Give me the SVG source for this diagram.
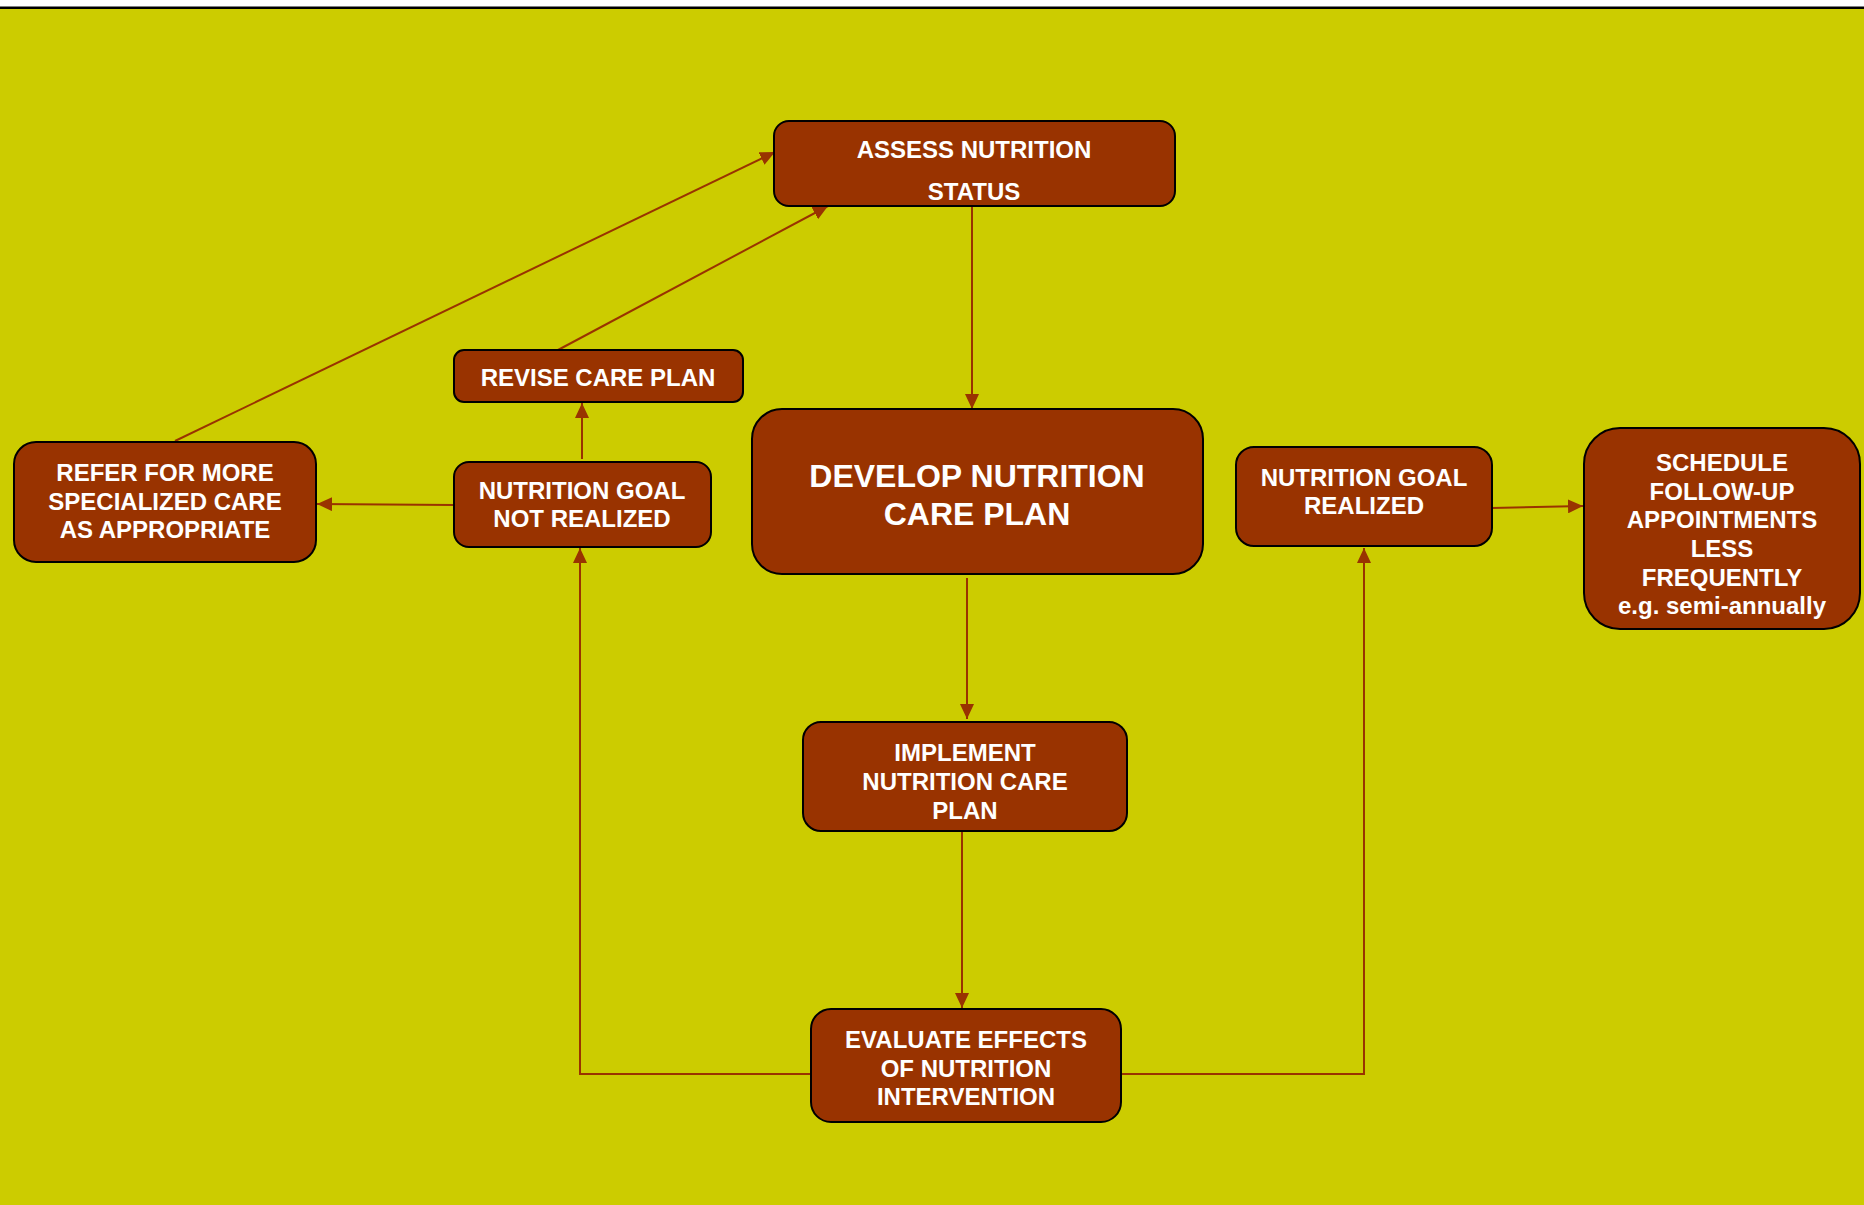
<svg xmlns="http://www.w3.org/2000/svg" width="1864" height="1205" viewBox="0 0 1864 1205">
<style>
.box{fill:#993300;stroke:#000;stroke-width:2}
.t{fill:#fff;font-family:"Liberation Sans",Arial,sans-serif;font-weight:bold;font-size:24px;text-anchor:middle}
.big{font-size:32px}
.c{fill:none;stroke:#993300;stroke-width:2}
</style>
<defs>
<marker id="ah" viewBox="0 0 15 14" refX="15" refY="7" markerWidth="15" markerHeight="14" markerUnits="userSpaceOnUse" orient="auto"><path d="M0,0 L15,7 L0,14 z" fill="#993300"/></marker>
</defs>
<rect x="0" y="0" width="1864" height="1205" fill="#fff"/>
<rect x="0" y="9" width="1864" height="1196" fill="#cccc00"/>
<rect x="0" y="6.5" width="1864" height="2.5" fill="#000"/>
<g id="connectors">
<line class="c" x1="972" y1="206" x2="972" y2="409" marker-end="url(#ah)"/>
<line class="c" x1="967" y1="578" x2="967" y2="719" marker-end="url(#ah)"/>
<line class="c" x1="962" y1="831" x2="962" y2="1008" marker-end="url(#ah)"/>
<polyline class="c" points="811,1074 580,1074 580,548" marker-end="url(#ah)"/>
<polyline class="c" points="1121,1074 1364,1074 1364,548" marker-end="url(#ah)"/>
<line class="c" x1="1492" y1="508" x2="1583" y2="506" marker-end="url(#ah)"/>
<line class="c" x1="582" y1="459" x2="582" y2="403" marker-end="url(#ah)"/>
<line class="c" x1="454" y1="505" x2="317" y2="504" marker-end="url(#ah)"/>
<line class="c" x1="175" y1="441" x2="775" y2="152" marker-end="url(#ah)"/>
<line class="c" x1="558" y1="350" x2="828" y2="206" marker-end="url(#ah)"/>
</g>
<g id="assess">
<rect class="box" x="774" y="121" width="401" height="85" rx="15"/>
<text class="t" x="974" y="158">ASSESS NUTRITION</text>
<text class="t" x="974" y="200">STATUS</text>
</g>
<g id="revise">
<rect class="box" x="454" y="350" width="289" height="52" rx="10"/>
<text class="t" x="598" y="386">REVISE CARE PLAN</text>
</g>
<g id="refer">
<rect class="box" x="14" y="442" width="302" height="120" rx="22"/>
<text class="t" x="165" y="481">REFER FOR MORE</text>
<text class="t" x="165" y="510">SPECIALIZED CARE</text>
<text class="t" x="165" y="538">AS APPROPRIATE</text>
</g>
<g id="not-realized">
<rect class="box" x="454" y="462" width="257" height="85" rx="15"/>
<text class="t" x="582" y="499">NUTRITION GOAL</text>
<text class="t" x="582" y="527">NOT REALIZED</text>
</g>
<g id="develop">
<rect class="box" x="752" y="409" width="451" height="165" rx="30"/>
<text class="t big" x="977" y="487">DEVELOP NUTRITION</text>
<text class="t big" x="977" y="525">CARE PLAN</text>
</g>
<g id="realized">
<rect class="box" x="1236" y="447" width="256" height="99" rx="18"/>
<text class="t" x="1364" y="486">NUTRITION GOAL</text>
<text class="t" x="1364" y="514">REALIZED</text>
</g>
<g id="schedule">
<rect class="box" x="1584" y="428" width="276" height="201" rx="36"/>
<text class="t" x="1722" y="471">SCHEDULE</text>
<text class="t" x="1722" y="500">FOLLOW-UP</text>
<text class="t" x="1722" y="528">APPOINTMENTS</text>
<text class="t" x="1722" y="557">LESS</text>
<text class="t" x="1722" y="586">FREQUENTLY</text>
<text class="t" x="1722" y="614">e.g. semi-annually</text>
</g>
<g id="implement">
<rect class="box" x="803" y="722" width="324" height="109" rx="18"/>
<text class="t" x="965" y="761">IMPLEMENT</text>
<text class="t" x="965" y="790">NUTRITION CARE</text>
<text class="t" x="965" y="819">PLAN</text>
</g>
<g id="evaluate">
<rect class="box" x="811" y="1009" width="310" height="113" rx="20"/>
<text class="t" x="966" y="1048">EVALUATE EFFECTS</text>
<text class="t" x="966" y="1077">OF NUTRITION</text>
<text class="t" x="966" y="1105">INTERVENTION</text>
</g>
</svg>
